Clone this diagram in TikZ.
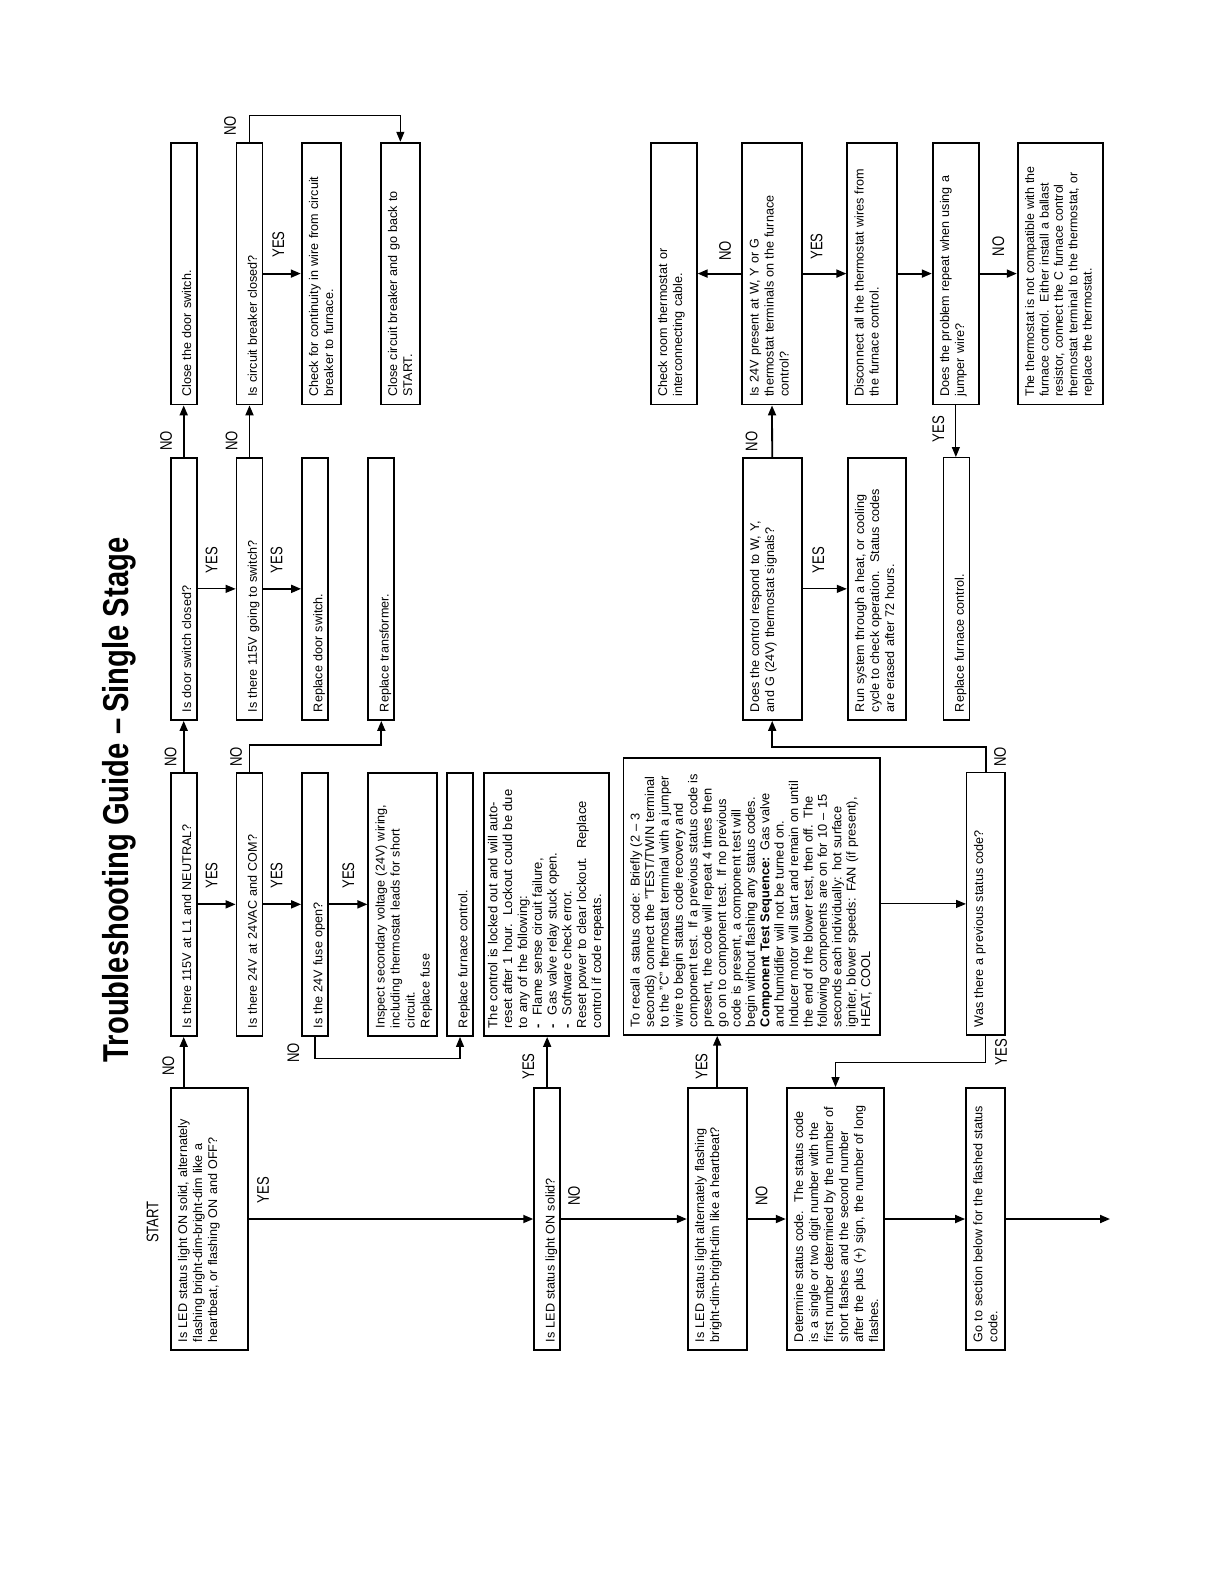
\documentclass[tikz,border=0pt]{standalone}
\usepackage{fontspec}
\setmainfont{Liberation Sans}
\newfontfamily\labelfont[FakeStretch=0.78]{Liberation Sans}
\newfontfamily\titlefont[FakeStretch=0.81]{Liberation Sans}
\usetikzlibrary{arrows.meta}

\tikzset{
  box/.style={draw, line width=0.9pt, rotate=90, align=left, inner xsep=4pt, inner ysep=2.2pt,
    text height=6pt, font=\fontsize{6.3}{7.5}\selectfont},
  single/.style={text height=8pt, text depth=0.6pt},
  tight/.style={font=\fontsize{6.4}{7.2}\selectfont},
  answer/.style={rotate=90, inner sep=0pt, font=\labelfont\fontsize{8.4}{9}\selectfont},
  flow/.style={line width=0.9pt, -{Triangle[length=5pt,width=4pt]}},
  thinflow/.style={flow, line width=0.55pt},
}

\begin{document}
\begin{tikzpicture}[x=0.5pt,y=0.5pt,yscale=-1,xscale=1]
		% Page of 1224 x 1584
		\useasboundingbox (0,0) rectangle (1224,1584);

		% Title and start label
		\node[rotate=90, inner sep=0pt, font=\titlefont\bfseries\fontsize{18}{20}\selectfont] (title) at (119,800) {Troubleshooting Guide –\,Single Stage};
		\node[answer] (start) at (152.5,1222) {START};

		% Bottom row: LED questions
		\node[box, text width=123pt, text depth=28.25pt] (ledq) at (209.35,1219) {Is LED status light ON solid, alternately\\flashing bright-dim-bright-dim like a\\heartbeat, or flashing ON and OFF?};
		\node[box, single, text width=123pt] (solidq) at (547.15,1219) {Is LED status light ON solid?};
		\node[box, text width=123pt, text depth=19.1pt] (heartq) at (717.2,1219) {Is LED status light alternately flashing\\bright-dim-bright-dim like a heartbeat?};
		\node[box, text width=123pt, text depth=38.4pt] (determine) at (835.5,1219) {Determine status code.\ \ The status code\\is a single or two digit number with the\\first number determined by the number of\\short flashes and the second number\\after the plus (+) sign, the number of long\\flashes.};
		\node[box, text width=123pt, text depth=9.1pt] (gosection) at (985.5,1219) {Go to section below for the flashed status\\code.};
		\coordinate (flowend) at (1110,1219);

		% Lower row: power checks
		\node[box, single, text width=123.65pt] (lineq) at (183.7,904.35) {Is there 115V at L1 and NEUTRAL?};
		\node[box, single, text width=123.65pt] (lowq) at (249.5,904.35) {Is there 24V at 24VAC and COM?};
		\node[box, single, text width=123.65pt] (fuseq) at (315,904.35) {Is the 24V fuse open?};
		\node[box, text width=123.65pt, text depth=24.1pt] (inspect) at (402.8,904.35) {Inspect secondary voltage (24V) wiring,\\including thermostat leads for short\\circuit.\\Replace fuse};
		\node[box, single, text width=123.65pt] (replacectrl) at (460,904.35) {Replace furnace control.};
		\node[box, text width=123.65pt, text height=4.5pt, text depth=53.6pt, font=\fontsize{6.5}{7.4}\selectfont] (lockout) at (546.5,904.35) {The control is locked out and will auto-\\reset after 1 hour.\ \ Lockout could be due\\to any of the following:\\\textbf{-}\ \ Flame sense circuit failure,\\\textbf{-}\ \ Gas valve relay stuck open.\\\textbf{-}\ \ Software check error.\\Reset power to clear lockout.\ \ Replace\\control if code repeats.};
		\node[box, tight, line width=0.7pt, text width=130.5pt, text depth=117.95pt] (recall) at (751.65,896.5) {To recall a status code: Briefly (2 – 3\\seconds) connect the "TEST/TWIN terminal\\to the "C" thermostat terminal with a jumper\\wire to begin status code recovery and\\component test. If a previous status code is\\present, the code will repeat 4 times then\\go on to component test. If no previous\\code is present, a component test will\\begin without flashing any status codes.\\\textbf{Component Test Sequence:} Gas valve\\and humidifier will not be turned on.\\Inducer motor will start and remain on until\\the end of the blower test, then off. The\\following components are on for 10 – 15\\seconds each individually: hot surface\\igniter, blower speeds: FAN (if present),\\HEAT, COOL};
		\node[box, line width=0.7pt, text width=123.15pt, text depth=8.75pt] (previousq) at (985.85,903.9) {Was there a previous status code?};

		% Middle row
		\node[box, single, text width=123.15pt] (doorq) at (183.7,588.85) {Is door switch closed?};
		\node[box, single, text width=123.15pt] (switchq) at (249.5,588.85) {Is there 115V going to switch?};
		\node[box, single, text width=123.15pt] (replacedoor) at (315,588.85) {Replace door switch.};
		\node[box, single, text width=123.15pt] (replacetrans) at (381.3,588.85) {Replace transformer.};
		\node[box, text width=123.15pt, text depth=19.1pt] (respondq) at (772.2,588.85) {Does the control respond to W, Y,\\and G (24V) thermostat signals?};
		\node[box, text width=123.15pt, text depth=18.75pt] (runsystem) at (876.85,588.85) {Run system through a heat, or cooling\\cycle to check operation.\ \ Status codes\\are erased after 72 hours.};
		\node[box, single, line width=0.7pt, text width=123.15pt] (replacectrl2) at (956.35,588.85) {Replace furnace control.};

		% Top row
		\node[box, single, text width=122.9pt] (closedoor) at (183.7,273.6) {Close the door switch.};
		\node[box, single, text width=122.9pt] (breakerq) at (249.5,273.6) {Is circuit breaker closed?};
		\node[box, text width=122.9pt, text depth=9.25pt] (continuity) at (321.35,273.6) {Check for continuity in wire from circuit\\breaker to furnace.};
		\node[box, text width=122.9pt, text depth=9.25pt] (closebreaker) at (400.35,273.6) {Close circuit breaker and go back to\\START.};
		\node[box, text width=122.9pt, text depth=12.6pt] (checkstat) at (673.7,273.6) {Check room thermostat or\\interconnecting cable.};
		\node[box, text width=122.9pt, text depth=19.3pt] (presentq) at (772,273.6) {Is 24V present at W, Y or G\\thermostat terminals on the furnace\\control?};
		\node[box, text width=122.9pt, text depth=14.45pt] (disconnect) at (872.15,273.6) {Disconnect all the thermostat wires from\\the furnace control.};
		\node[box, text width=122.9pt, text depth=12.75pt] (jumperq) at (955.85,273.6) {Does the problem repeat when using a\\jumper wire?};
		\node[box, text width=122.9pt, text depth=32.4pt, font=\fontsize{6.2}{7.2}\selectfont] (notcompat) at (1060.5,273.6) {The thermostat is not compatible with the\\furnace control.\ \ Either install a ballast\\resistor, connect the C furnace control\\thermostat terminal to the thermostat, or\\replace the thermostat.};

		% Main line of LED questions
		\draw[flow] (ledq) -- (solidq);
		\draw[flow] (solidq) -- (heartq);
		\draw[flow] (heartq) -- (determine);
		\draw[flow] (determine) -- (gosection);
		\draw[flow] (gosection) -- (flowend);
		\draw[flow] (ledq.east -| lineq.west) -- (lineq.west);
		\draw[flow] (solidq.east) -- (solidq.east |- lockout.west);
		\draw[flow] (heartq.east) -- (heartq.east |- recall.west);

		% Power checks
		\draw[flow] (lineq) -- (lowq);
		\draw[flow] (lowq) -- (fuseq);
		\draw[flow] (fuseq) -- (inspect);
		\draw[flow] (lineq.east) -- (doorq.west);
		\draw[flow] (lowq.east) -- ++(0,-26.7) -| (replacetrans.west);
		\draw[thinflow] (fuseq.west) -- ++(0,22) -| (replacectrl.west);
		\draw[thinflow] (doorq) -- (switchq);
		\draw[flow] (switchq) -- (replacedoor);
		\draw[flow] (doorq.east) -- (closedoor.west);
		\draw[flow] (switchq.east) -- (breakerq.west);
		\draw[flow] (breakerq) -- (continuity);
		\draw[thinflow] (breakerq.east) -- ++(0,-26.7) -| (closebreaker.east);

		% Status code and thermostat checks
		\draw[thinflow] (recall.south |- previousq) -- (previousq);
		\draw[thinflow] (previousq.west) -- ++(0,27) -| (determine.east);
		\draw[flow] (previousq.east) -- ++(0,-24.7) -| (respondq.west);
		\draw[thinflow] (respondq) -- (runsystem);
		\draw[flow] (respondq.east) -- (presentq.west);
		\draw[flow] (presentq) -- (checkstat);
		\draw[flow] (presentq) -- (disconnect);
		\draw[flow] (disconnect) -- (jumperq);
		\draw[flow] (jumperq) -- (notcompat);
		\draw[thinflow] (jumperq.west) -- (jumperq.west |- replacectrl2.east);

		% YES / NO labels
		\node[answer] (noled) at (168.3,1066) {NO};
		\node[answer] (yesled) at (263,1190) {YES};
		\node[answer] (noline) at (170.7,757) {NO};
		\node[answer] (yesline) at (211.7,875.5) {YES};
		\node[answer] (nolow) at (236,757) {NO};
		\node[answer] (yeslow) at (276.7,875.5) {YES};
		\node[answer] (yesfuse) at (348.3,875.5) {YES};
		\node[answer] (nofuse) at (293.3,1053) {NO};
		\node[answer] (nodoor) at (166,441) {NO};
		\node[answer] (yesdoor) at (211.7,560) {YES};
		\node[answer] (noswitch) at (231.7,441) {NO};
		\node[answer] (yesswitch) at (276.7,560) {YES};
		\node[answer] (nobreaker) at (230,126) {NO};
		\node[answer] (yesbreaker) at (278.3,244.5) {YES};
		\node[answer] (yessolid) at (528.3,1066.5) {YES};
		\node[answer] (nosolid) at (574,1196) {NO};
		\node[answer] (yesheart) at (701.7,1066.5) {YES};
		\node[answer] (noheart) at (761.7,1196) {NO};
		\node[answer] (yesprevious) at (1001,1052) {YES};
		\node[answer] (noprevious) at (1000,757) {NO};
		\node[answer] (yesrespond) at (818.3,560) {YES};
		\node[answer] (norespond) at (751.7,441.5) {NO};
		\node[answer] (nopresent) at (725,251) {NO};
		\node[answer] (yespresent) at (816.7,246.5) {YES};
		\node[answer] (nojumper) at (998.3,246.5) {NO};
		\node[answer] (yesjumper) at (938.3,429) {YES};
	\end{tikzpicture}
\end{document}
